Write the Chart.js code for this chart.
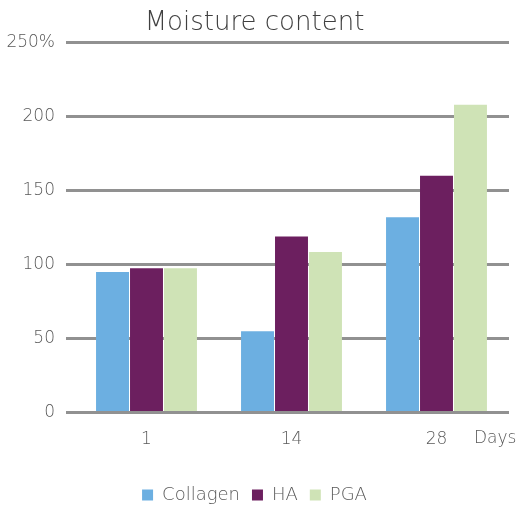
<!DOCTYPE html>
<html>
<head>
<meta charset="utf-8">
<script src="https://cdn.jsdelivr.net/npm/chart.js@4"></script>
<style>
  html, body { margin: 0; padding: 0; background: #fff; }
  #wrap { width: 523px; height: 507px; }
</style>
</head>
<body>
<div id="wrap"><canvas id="chart" width="523" height="507"></canvas></div>
<script>
const days     = ['1', '14', '28'];
const collagen = [95, 55, 132];
const ha       = [97.5, 119, 160];
const pga      = [97.5, 108.5, 208];
const yTicks   = [0, 50, 100, 150, 200, 250];

const FONT = '"DejaVu Sans"';
const W = 200;

// "Days" sits on the tick-label line, right of the last category
const daysLabel = {
  id: 'daysLabel',
  afterDraw(chart) {
    const xs = chart.scales.x;
    const ctx = chart.ctx;
    ctx.save();
    ctx.font = `${W} 17px ${FONT}`;
    ctx.fillStyle = '#595959';
    ctx.textBaseline = 'middle';
    ctx.textAlign = 'left';
    ctx.fillText('Days', xs.right - 35, xs.top + 17 + 9);
    ctx.restore();
  },
};

new Chart(document.getElementById('chart'), {
  type: 'bar',
  data: {
    labels: days,
    datasets: [
      { label: 'Collagen', data: collagen, backgroundColor: '#6cafe1' },
      { label: 'HA',       data: ha,       backgroundColor: '#6c1f5f' },
      { label: 'PGA',      data: pga,      backgroundColor: '#cfe3b6' },
    ],
  },
  options: {
    responsive: false,
    animation: false,
    layout: { padding: { left: 0, right: 14, bottom: -7 } },
    datasets: { bar: { barPercentage: 0.97, categoryPercentage: 0.703 } },
    plugins: {
      title: {
        display: true,
        text: 'Moisture content',
        color: '#404040',
        font: { family: FONT, size: 26, weight: W, lineHeight: 1.1 },
        padding: { top: 9, bottom: 5 },
      },
      legend: {
        position: 'bottom',
        labels: {
          boxWidth: 11, boxHeight: 11, padding: 12,
          color: '#595959',
          font: { family: FONT, size: 18, weight: W },
        },
      },
      tooltip: { enabled: false },
    },
    scales: {
      x: {
        grid: { display: false, drawTicks: false },
        border: { display: false },
        afterFit: s => { s.height += 7; },
        ticks: { color: '#595959', padding: 17, font: { family: FONT, size: 17, weight: W } },
      },
      y: {
        min: 0, max: 250,
        afterBuildTicks: s => { s.ticks = yTicks.map(v => ({ value: v })); },
        afterFit: s => { s.width = 74; },
        grid: { color: '#919191', lineWidth: 3, drawTicks: true, tickLength: 8 },
        border: { display: false },
        ticks: {
          color: '#595959', padding: 11,
          font: { family: FONT, size: 17, weight: W },
          callback: v => v === 250 ? '250%' : v,
        },
      },
    },
  },
  plugins: [daysLabel],
});
</script>
</body>
</html>
